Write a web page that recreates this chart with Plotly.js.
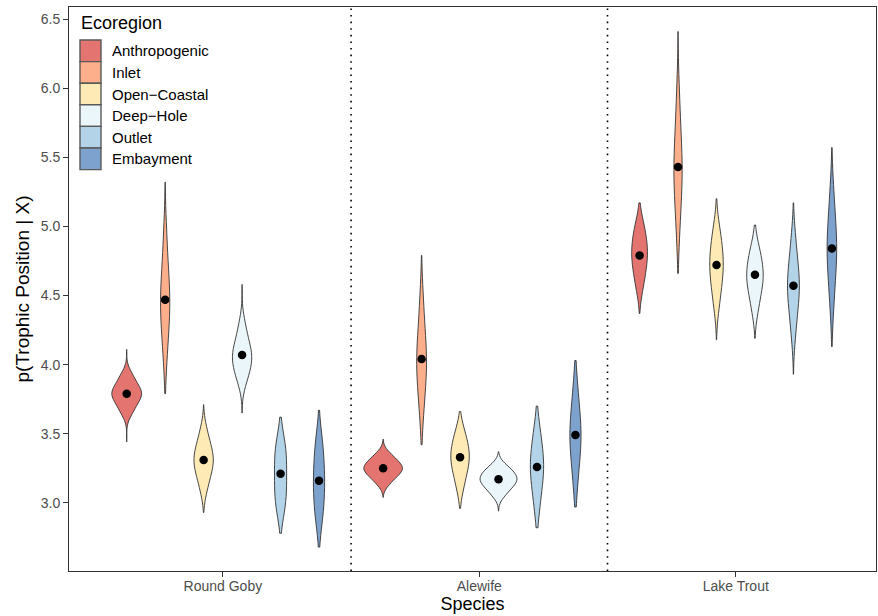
<!DOCTYPE html>
<html>
<head>
<meta charset="utf-8">
<script src="https://cdn.plot.ly/plotly-3.0.1.min.js"></script>
<style>html,body{margin:0;padding:0;background:#fff}#chart{width:878px;height:616px}</style>
</head>
<body>
<div id="chart"></div>
<script>
// ---- data ----
const species = ['Round Goby', 'Alewife', 'Lake Trout'];
const ecoregions = ['Anthropogenic', 'Inlet', 'Open\u2212Coastal', 'Deep\u2212Hole', 'Outlet', 'Embayment'];
const ecoColors = ['#E4746F', '#FDAF8C', '#FEEAB5', '#EBF6FA', '#B2D3E8', '#7EA2CE'];

// representative posterior draws per ecoregion (estimated from violin shapes)
const roundGobySamples = [
  [3.65, 3.685, 3.73, 3.755, 3.773, 3.79, 3.807, 3.825, 3.85, 3.895, 3.93],
  [4.03, 4.17, 4.28, 4.35, 4.41, 4.46, 4.52, 4.59, 4.67, 4.80, 4.97],
  [3.09, 3.16, 3.22, 3.25, 3.28, 3.31, 3.34, 3.37, 3.40, 3.46, 3.53],
  [3.87, 3.92, 3.97, 4.01, 4.03, 4.06, 4.09, 4.12, 4.16, 4.22, 4.30],
  [2.94, 2.98, 3.035, 3.09, 3.145, 3.20, 3.255, 3.31, 3.365, 3.42, 3.45],
  [2.85, 2.92, 2.99, 3.05, 3.11, 3.16, 3.21, 3.27, 3.34, 3.42, 3.47]
];
const alewifeSamples = [
  [3.14, 3.175, 3.203, 3.222, 3.236, 3.25, 3.264, 3.278, 3.297, 3.325, 3.355],
  [3.63, 3.76, 3.86, 3.93, 3.98, 4.03, 4.09, 4.15, 4.23, 4.35, 4.50],
  [3.10, 3.17, 3.23, 3.27, 3.30, 3.33, 3.36, 3.39, 3.43, 3.48, 3.53],
  [3.055, 3.09, 3.12, 3.14, 3.155, 3.17, 3.185, 3.20, 3.22, 3.245, 3.27],
  [2.94, 3.04, 3.12, 3.18, 3.22, 3.26, 3.30, 3.34, 3.40, 3.47, 3.55],
  [3.11, 3.23, 3.33, 3.39, 3.44, 3.49, 3.54, 3.59, 3.65, 3.75, 3.87]
];
const lakeTroutSamples = [
  [4.55, 4.61, 4.68, 4.73, 4.76, 4.80, 4.84, 4.87, 4.92, 4.98, 5.02],
  [4.94, 5.09, 5.22, 5.30, 5.36, 5.42, 5.49, 5.56, 5.66, 5.80, 5.98],
  [4.42, 4.50, 4.58, 4.64, 4.68, 4.72, 4.76, 4.80, 4.86, 4.93, 4.99],
  [4.38, 4.46, 4.53, 4.57, 4.61, 4.64, 4.67, 4.71, 4.75, 4.81, 4.86],
  [4.21, 4.32, 4.42, 4.48, 4.52, 4.57, 4.62, 4.66, 4.72, 4.82, 4.93],
  [4.40, 4.54, 4.65, 4.73, 4.78, 4.84, 4.90, 4.95, 5.03, 5.14, 5.28]
];

// violin tip extents (min / max of draws)
const roundGobyMin = [3.44, 3.79, 2.93, 3.65, 2.78, 2.68];
const roundGobyMax = [4.11, 5.32, 3.71, 4.58, 3.62, 3.67];
const alewifeMin   = [3.04, 3.42, 2.96, 2.94, 2.82, 2.97];
const alewifeMax   = [3.46, 4.79, 3.66, 3.37, 3.70, 4.03];
const lakeTroutMin = [4.37, 4.66, 4.18, 4.19, 3.93, 4.13];
const lakeTroutMax = [5.17, 6.41, 5.20, 5.01, 5.17, 5.57];

// posterior means (black dots)
const roundGobyMeans = [3.79, 4.47, 3.31, 4.07, 3.21, 3.16];
const alewifeMeans   = [3.25, 4.04, 3.33, 3.17, 3.26, 3.49];
const lakeTroutMeans = [4.79, 5.43, 4.72, 4.65, 4.57, 4.84];

const yTicks = [3.0, 3.5, 4.0, 4.5, 5.0, 5.5, 6.0, 6.5];

// ---- build traces ----
const sampleSets = [roundGobySamples, alewifeSamples, lakeTroutSamples];
const minSets = [roundGobyMin, alewifeMin, lakeTroutMin];
const maxSets = [roundGobyMax, alewifeMax, lakeTroutMax];
const meanSets = [roundGobyMeans, alewifeMeans, lakeTroutMeans];
const dodge = 0.15;

const traces = [];
const dotX = [], dotY = [];
species.forEach((sp, i) => {
  ecoregions.forEach((eco, k) => {
    const pos = (i + 1) + (k - 2.5) * dodge;
    const ys = sampleSets[i][k];
    traces.push({
      type: 'violin', orientation: 'v',
      x: ys.map(() => pos), y: ys,
      name: eco, showlegend: false,
      scalegroup: 'all', scalemode: 'width',
      spanmode: 'manual', span: [minSets[i][k], maxSets[i][k]],
      fillcolor: ecoColors[k],
      line: {color: '#333333', width: 0.9},
      points: false, box: {visible: false}, meanline: {visible: false},
      hoverinfo: 'y'
    });
    dotX.push(pos);
    dotY.push(meanSets[i][k]);
  });
});
traces.push({
  type: 'scatter', mode: 'markers', x: dotX, y: dotY,
  marker: {color: '#000000', size: 8.5},
  showlegend: false, hoverinfo: 'y'
});

// ---- layout ----
const L = 69, R = 876, T = 7, B = 571;
const px = X => (X - L) / (R - L);
const py = Y => 1 - (Y - T) / (B - T);

const shapes = [1.5, 2.5].map(v => ({
  type: 'line', xref: 'x', yref: 'paper', x0: v, x1: v, y0: 0, y1: 1,
  line: {color: '#000000', width: 1.6, dash: '1.6px,5px'}
}));
const annotations = [{
  text: 'Ecoregion', xref: 'paper', yref: 'paper', x: px(79), y: py(23),
  xanchor: 'left', yanchor: 'middle', showarrow: false,
  font: {size: 18, color: '#000000'}
}];
const keyTop = 40, keyH = 21.6;
ecoregions.forEach((eco, k) => {
  const y0 = keyTop + k * keyH;
  shapes.push({
    type: 'rect', xref: 'paper', yref: 'paper',
    x0: px(80), x1: px(101), y0: py(y0 + keyH), y1: py(y0),
    fillcolor: ecoColors[k], line: {color: '#5a5a5a', width: 1.4}
  });
  annotations.push({
    text: eco, xref: 'paper', yref: 'paper', x: px(110), y: py(y0 + keyH / 2),
    xanchor: 'left', yanchor: 'middle', showarrow: false,
    font: {size: 15, color: '#000000'}
  });
});

const layout = {
  width: 878, height: 616,
  margin: {l: L, r: 878 - R, t: T, b: 616 - B},
  paper_bgcolor: '#ffffff', plot_bgcolor: '#ffffff',
  font: {family: 'Liberation Sans, Arial, sans-serif', color: '#000000'},
  showlegend: false,
  violinmode: 'overlay', violingap: 0, violingroupgap: 0,
  xaxis: {
    range: [0.4, 3.547], tickvals: [1, 2, 3], ticktext: species,
    showgrid: false, zeroline: false,
    showline: true, mirror: true, linecolor: '#333333', linewidth: 1,
    ticks: 'outside', ticklen: 5, tickcolor: '#333333', tickwidth: 1,
    ticklabelstandoff: -3,
    tickfont: {size: 14, color: '#4d4d4d'},
    title: {text: 'Species', font: {size: 18, color: '#000000'}, standoff: 4}
  },
  yaxis: {
    range: [2.507, 6.587], tickvals: yTicks, ticktext: yTicks.map(v => v.toFixed(1)),
    showgrid: false, zeroline: false,
    showline: true, mirror: true, linecolor: '#333333', linewidth: 1,
    ticks: 'outside', ticklen: 5, tickcolor: '#333333', tickwidth: 1,
    tickfont: {size: 14, color: '#4d4d4d'},
    title: {text: 'p(Trophic Position | X)', font: {size: 19, color: '#000000'}, standoff: 6}
  },
  shapes: shapes,
  annotations: annotations
};

Plotly.newPlot('chart', traces, layout, {displayModeBar: false, staticPlot: true});
</script>
</body>
</html>
